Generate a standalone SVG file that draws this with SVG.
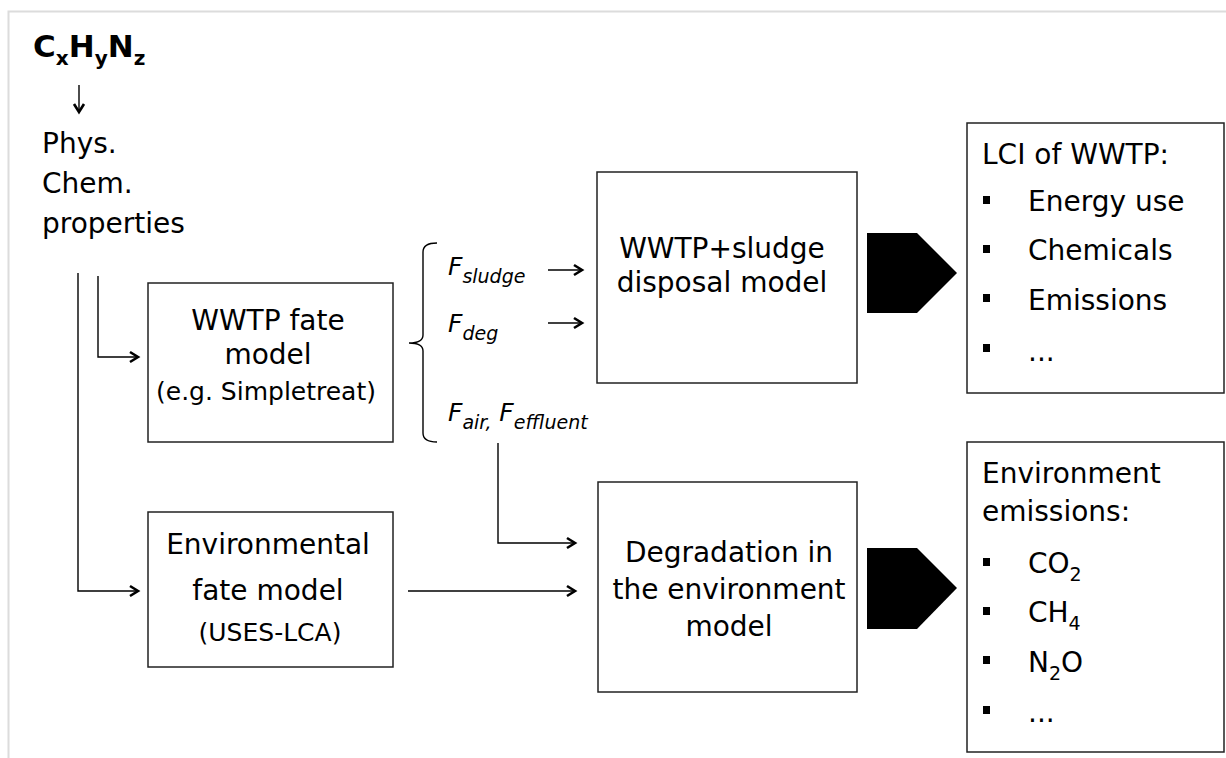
<svg xmlns="http://www.w3.org/2000/svg" width="1226" height="758" viewBox="0 0 1226 758">
<defs>
<marker id="ah" markerUnits="userSpaceOnUse" markerWidth="14" markerHeight="14" refX="11" refY="7" orient="auto">
<path d="M3,2 L11,7 L3,12" fill="none" stroke="#000" stroke-width="2.6"/>
</marker>
<style>
.t{font-family:"DejaVu Sans","Liberation Sans",sans-serif;font-size:28px;fill:#000}
.s{font-size:25px}
.c{text-anchor:middle}
.f{font-family:"DejaVu Sans","Liberation Sans",sans-serif;font-style:italic;font-size:25px;fill:#000}
.sub{font-size:19px}
.box{fill:#fff;stroke:#222;stroke-width:1.5}
.ln{fill:none;stroke:#000;stroke-width:1.4}
.bul{fill:#000}
</style>
</defs>
<rect width="1226" height="758" fill="#fff"/>
<path d="M8.5,758 L8.5,11.5 L1226,11.5" fill="none" stroke="#dcdcdc" stroke-width="2"/>

<g id="formula">
<text x="33" y="57" font-family="DejaVu Sans, Liberation Sans, sans-serif" font-weight="bold" font-size="31">C<tspan font-size="20" dy="8">x</tspan><tspan dy="-8">H</tspan><tspan font-size="20" dy="8">y</tspan><tspan dy="-8">N</tspan><tspan font-size="20" dy="8">z</tspan></text>
</g>

<g id="props">
<text class="t" x="42" y="153">Phys.</text>
<text class="t" x="42" y="193">Chem.</text>
<text class="t" x="42" y="233">properties</text>
</g>

<g id="wwtp-fate">
<rect class="box" x="148" y="283" width="245" height="159"/>
<text class="t c" x="268" y="330">WWTP fate</text>
<text class="t c" x="268" y="364">model</text>
<text class="t s c" x="266" y="400">(e.g. Simpletreat)</text>
</g>

<g id="env-fate">
<rect class="box" x="148" y="512" width="245" height="155"/>
<text class="t c" x="268" y="554">Environmental</text>
<text class="t c" x="268" y="600">fate model</text>
<text class="t s c" x="270" y="641">(USES-LCA)</text>
</g>

<g id="fractions">
<text class="f" x="448" y="275">F<tspan class="sub" dy="8">sludge</tspan></text>
<text class="f" x="448" y="332">F<tspan class="sub" dy="8">deg</tspan></text>
<text class="f" x="448" y="421">F<tspan class="sub" dy="8">air,</tspan><tspan dy="-8"> F</tspan><tspan class="sub" dy="8">effluent</tspan></text>
<path class="ln" d="M437,243 Q423,243 423,252 L423,335 Q423,343 409,343 Q423,343 423,351 L423,433 Q423,442 437,442"/>
</g>

<g id="wwtp-sludge">
<rect class="box" x="597" y="172" width="260" height="211"/>
<text class="t c" x="722" y="258">WWTP+sludge</text>
<text class="t c" x="722" y="292">disposal model</text>
</g>

<g id="degradation">
<rect class="box" x="598" y="482" width="259" height="210"/>
<text class="t c" x="729" y="562">Degradation in</text>
<text class="t c" x="729" y="599">the environment</text>
<text class="t c" x="729" y="636">model</text>
</g>

<g id="lci">
<rect class="box" x="967" y="123" width="257" height="270"/>
<text class="t" x="982" y="164">LCI of WWTP:</text>
<rect class="bul" x="983" y="196" width="7" height="8"/>
<text class="t" x="1028" y="211">Energy use</text>
<rect class="bul" x="983" y="245" width="7" height="8"/>
<text class="t" x="1028" y="260">Chemicals</text>
<rect class="bul" x="983" y="294" width="7" height="8"/>
<text class="t" x="1028" y="310">Emissions</text>
<rect class="bul" x="983" y="344" width="7" height="8"/>
<text class="t" x="1028" y="361">...</text>
</g>

<g id="env-emissions">
<rect class="box" x="967" y="442" width="257" height="310"/>
<text class="t" x="982" y="483">Environment</text>
<text class="t" x="982" y="521">emissions:</text>
<rect class="bul" x="983" y="558" width="7" height="8"/>
<text class="t" x="1028" y="573">CO<tspan font-size="19" dy="8">2</tspan></text>
<rect class="bul" x="983" y="607" width="7" height="8"/>
<text class="t" x="1028" y="622">CH<tspan font-size="19" dy="8">4</tspan></text>
<rect class="bul" x="983" y="656" width="7" height="8"/>
<text class="t" x="1028" y="672">N<tspan font-size="19" dy="8">2</tspan><tspan dy="-8">O</tspan></text>
<rect class="bul" x="983" y="706" width="7" height="8"/>
<text class="t" x="1028" y="722">...</text>
</g>

<g id="connectors">
<path class="ln" d="M79,85 L79,112" marker-end="url(#ah)"/>
<path class="ln" d="M98,276 L98,357 L138,357" marker-end="url(#ah)"/>
<path class="ln" d="M78,273 L78,591 L138,591" marker-end="url(#ah)"/>
<path class="ln" d="M548,270 L582,270" marker-end="url(#ah)"/>
<path class="ln" d="M548,323 L582,323" marker-end="url(#ah)"/>
<path class="ln" d="M498,443 L498,543 L575,543" marker-end="url(#ah)"/>
<path class="ln" d="M408,591 L575,591" marker-end="url(#ah)"/>
<path d="M867,233 L917,233 L957,273 L917,313 L867,313 Z" fill="#000"/>
<path d="M867,548 L917,548 L957,588 L917,629 L867,629 Z" fill="#000"/>
</g>
</svg>
